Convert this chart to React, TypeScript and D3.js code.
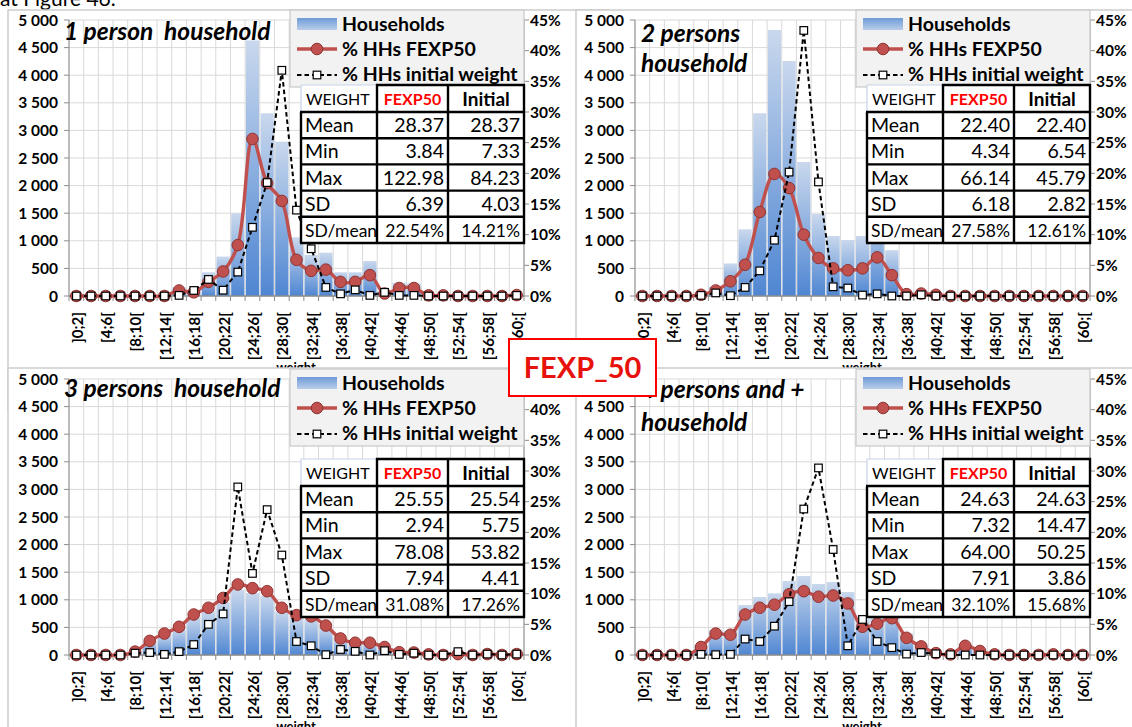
import React from "react";
import * as d3 from "d3";

// ---------- DATA ----------
const categories = [
  "]0;2]", "[2;4[", "[4;6[", "[6;8[", "[8;10[", "[10;12[", "[12;14[", "[14;16[",
  "[16;18[", "[18;20[", "[20;22[", "[22;24[", "[24;26[", "[26;28[", "[28;30[",
  "[30;32[", "[32;34[", "[34;36[", "[36;38[", "[38;40[", "[40;42[", "[42;44[",
  "[44;46[", "[46;48[", "[48;50[", "[50;52[", "[52;54[", "[54;56[", "[56;58[",
  "[58;60[", "[60;[",
];
const leftTicks = [0, 500, 1000, 1500, 2000, 2500, 3000, 3500, 4000, 4500, 5000];
const leftTickLabels = ["0", "500", "1 000", "1 500", "2 000", "2 500", "3 000", "3 500", "4 000", "4 500", "5 000"];
const rightTicks = [0, 5, 10, 15, 20, 25, 30, 35, 40, 45];
const rightTickLabels = ["0%", "5%", "10%", "15%", "20%", "25%", "30%", "35%", "40%", "45%"];

const legendLabels = ["Households", "% HHs FEXP50", "% HHs initial weight"];
const tableRowLabels = ["Mean", "Min", "Max", "SD", "SD/mean"];
const tableHeader = ["WEIGHT", "FEXP50", "Initial"];

// 1 person household
const households1 = [0, 0, 0, 0, 0, 0, 0, 160, 110, 430, 714, 1500, 4630, 3310, 2796, 1063, 743, 785, 430, 430, 634, 70, 240, 230, 20, 20, 0, 0, 0, 0, 25];
const fexp1 = [0, 0, 0, 0, 0, 0, 0, 0.9, 0.6, 2.3, 4.0, 8.3, 25.6, 18.4, 15.5, 5.9, 4.1, 4.3, 2.3, 2.3, 3.4, 0.4, 1.3, 1.3, 0.1, 0.1, 0, 0, 0, 0, 0.15];
const init1 = [0, 0, 0, 0, 0, 0, 0, 0.1, 0.9, 2.7, 0.95, 3.9, 11.2, 18.5, 36.8, 14.0, 7.7, 1.4, 0.35, 1.0, 0.1, 0.6, 0.1, 0.1, 0, 0, 0, 0, 0, 0, 0.1];
const statsFexp1 = ["28.37", "3.84", "122.98", "6.39", "22.54%"];
const statsInit1 = ["28.37", "7.33", "84.23", "4.03", "14.21%"];

// 2 persons household
const households2 = [0, 0, 0, 0, 30, 170, 590, 1208, 3310, 4820, 4257, 2428, 1486, 1087, 1014, 1087, 1530, 830, 70, 95, 50, 0, 0, 0, 0, 0, 0, 0, 0, 0, 0];
const fexp2 = [0, 0, 0, 0, 0.2, 0.9, 2.4, 5.1, 13.7, 19.9, 17.6, 10.0, 6.2, 4.5, 4.2, 4.5, 6.3, 3.4, 0.3, 0.4, 0.2, 0, 0, 0, 0, 0, 0, 0, 0, 0, 0];
const init2 = [0, 0, 0, 0, 0.1, 0.5, 0.05, 1.4, 4.1, 9.1, 20.2, 43.3, 18.6, 1.5, 1.3, 0.15, 0.35, 0, 0, 0.2, 0, 0, 0, 0, 0, 0, 0, 0, 0, 0, 0];
const statsFexp2 = ["22.40", "4.34", "66.14", "6.18", "27.58%"];
const statsInit2 = ["22.40", "6.54", "45.79", "2.82", "12.61%"];

// 3 persons household
const households3 = [0, 0, 0, 0, 57, 237, 360, 474, 680, 793, 958, 1185, 1123, 1071, 793, 670, 650, 494, 278, 206, 206, 134, 46, 41, 10, 0, 15, 0, 15, 0, 15];
const fexp3 = [0, 0, 0, 0, 0.55, 2.3, 3.5, 4.6, 6.6, 7.7, 9.3, 11.5, 10.9, 10.4, 7.7, 6.5, 6.3, 4.8, 2.7, 2.0, 2.0, 1.3, 0.45, 0.4, 0.1, 0, 0.15, 0, 0.15, 0, 0.15];
const init3 = [0, 0, 0, 0, 0.3, 0.4, 0.1, 0.55, 1.7, 5.0, 6.7, 27.4, 13.3, 23.7, 16.3, 2.2, 1.5, 0.05, 0.9, 0.6, 0, 0.7, 0.1, 0.3, 0, 0, 0.55, 0, 0.15, 0, 0.15];
const statsFexp3 = ["25.55", "2.94", "78.08", "7.94", "31.08%"];
const statsInit3 = ["25.54", "5.75", "53.82", "4.41", "17.26%"];

// 4 persons and + household
const households4 = [0, 0, 0, 0, 177, 453, 440, 906, 1050, 1117, 1340, 1431, 1286, 1322, 1141, 650, 700, 815, 392, 190, 40, 14, 200, 90, 14, 0, 0, 0, 14, 0, 0];
const fexp4 = [0, 0, 0, 0, 1.3, 3.5, 3.3, 6.6, 7.7, 8.2, 9.9, 10.4, 9.5, 9.7, 8.4, 4.6, 5.1, 6.0, 2.8, 1.4, 0.3, 0.1, 1.5, 0.65, 0.1, 0, 0, 0, 0.1, 0, 0];
const init4 = [0, 0, 0, 0, 0.1, 0.05, 0.1, 2.6, 2.2, 4.7, 8.7, 23.8, 30.5, 17.2, 1.5, 5.8, 2.2, 1.2, 0.15, 0.4, 0.2, 0.05, 0, 0, 0, 0, 0, 0, 0, 0, 0];
const statsFexp4 = ["24.63", "7.32", "64.00", "7.91", "32.10%"];
const statsInit4 = ["24.63", "14.47", "50.25", "3.86", "15.68%"];

// ---------- STYLE ----------
const FONT = "Lato, 'Open Sans', 'DejaVu Sans', sans-serif";
const RED = "#c0504d";
const GRID = "#d9d9d9";
const AXIS = "#8c8c8c";

type PanelProps = {
  ox: number; oy: number;
  box: { x: number; y: number; w: number; h: number };
  titles: { t: string; y: number }[];
  titleX: number;
  tableY: number;
  bars: number[]; fexp: number[]; init: number[];
  sF: string[]; sI: string[];
};

function Panel(p: PanelProps) {
  const { ox, oy } = p;
  const x = d3.scaleBand<string>().domain(categories).range([ox + 69, ox + 524]).padding(0);
  const step = x.step();
  const cx = (i: number) => (x(categories[i]) as number) + step / 2;
  const yL = d3.scaleLinear().domain([0, 5000]).range([oy + 296, oy + 20]);
  const yR = d3.scaleLinear().domain([0, 45]).range([oy + 296, oy + 20]);
  const redPath = d3.line<number>().x((_, i) => cx(i)).y((d) => yR(d)).curve(d3.curveCatmullRom.alpha(0.5))(p.fexp) || "";
  const blackPath = d3.line<number>().x((_, i) => cx(i)).y((d) => yR(d))(p.init) || "";
  const barW = step * 0.9;
  const x0 = ox + 69, x1 = ox + 524, yb = oy + 296, yt = oy + 20;

  // table geometry
  const tx = ox + 301, ty = oy + p.tableY;
  const colX = [tx, tx + 76, tx + 147, tx + 223];
  const headH = 27, rowH = 26.2;
  const rowY = [ty, ty + headH, ...tableRowLabels.map((_, k) => ty + headH + rowH * (k + 1))];
  const tBottom = rowY[rowY.length - 1];

  // legend geometry
  const lx = ox + 290, ly = oy + 10;

  return (
    <g>
      <rect x={p.box.x} y={p.box.y} width={p.box.w} height={p.box.h} fill="#fff" stroke="#cdcdcd" strokeWidth={1.5} />
      {/* grid */}
      {leftTicks.map((v) => (
        <line key={"h" + v} x1={x0} x2={x1} y1={yL(v)} y2={yL(v)} stroke={GRID} strokeWidth={1} />
      ))}
      {d3.range(categories.length + 1).map((k) => (
        <line key={"v" + k} x1={x0 + k * step} x2={x0 + k * step} y1={yt} y2={yb} stroke={GRID} strokeWidth={1} />
      ))}
      {/* bars */}
      {p.bars.map((v, i) => (
        v > 0 ? <rect key={"b" + i} x={cx(i) - barW / 2} y={yL(v)} width={barW} height={yb - yL(v)} fill="url(#barGrad)" /> : null
      ))}
      {/* axes */}
      <line x1={x0} x2={x0} y1={yt} y2={yb} stroke={AXIS} />
      <line x1={x1} x2={x1} y1={yt} y2={yb} stroke={AXIS} />
      <line x1={x0} x2={x1} y1={yb} y2={yb} stroke={AXIS} strokeWidth={1.5} />
      {leftTicks.map((v) => (
        <line key={"lt" + v} x1={x0 - 5} x2={x0} y1={yL(v)} y2={yL(v)} stroke={AXIS} />
      ))}
      {rightTicks.map((v) => (
        <line key={"rt" + v} x1={x1} x2={x1 + 5} y1={yR(v)} y2={yR(v)} stroke={AXIS} />
      ))}
      {d3.range(categories.length + 1).map((k) => (
        <line key={"bt" + k} x1={x0 + k * step} x2={x0 + k * step} y1={yb} y2={yb + 5} stroke={AXIS} />
      ))}
      {/* lines */}
      <path d={redPath} fill="none" stroke={RED} strokeWidth={3.4} />
      {p.fexp.map((v, i) => (
        <circle key={"rc" + i} cx={cx(i)} cy={yR(v)} r={5.8} fill={RED} stroke="#8e3432" strokeWidth={1} />
      ))}
      <path d={blackPath} fill="none" stroke="#000" strokeWidth={2} strokeDasharray="4.5,3" />
      {p.init.map((v, i) => (
        <rect key={"sq" + i} x={cx(i) - 3.8} y={yR(v) - 3.8} width={7.6} height={7.6} fill="#fff" stroke="#000" strokeWidth={1.2} />
      ))}
      {/* tick labels */}
      {leftTicks.map((v, k) => (
        <text key={"ll" + v} x={ox + 58} y={yL(v)} dy="0.36em" textAnchor="end" fontSize={15.5} fontWeight="bold">{leftTickLabels[k]}</text>
      ))}
      {rightTicks.map((v, k) => (
        <text key={"rl" + v} x={ox + 530} y={yR(v)} dy="0.36em" textAnchor="start" fontSize={15.5} fontWeight="bold">{rightTickLabels[k]}</text>
      ))}
      {categories.map((c, i) => (
        i % 2 === 0 ? (
          <text key={"cl" + i} transform={`translate(${cx(i) + 1},${yb + 16}) rotate(-90)`} textAnchor="end" dy="0.36em" fontSize={15} fontWeight="bold">{c}</text>
        ) : null
      ))}
      <text x={ox + 296} y={oy + 372} textAnchor="middle" fontSize={13} fontWeight="bold">weight</text>
      {/* title */}
      {p.titles.map((t, k) => (
        <text key={"t" + k} x={ox + p.titleX} y={oy + t.y} fontSize={24.5} fontWeight="bold" fontStyle="italic" style={{ whiteSpace: "pre" }}>{t.t}</text>
      ))}
      {/* legend */}
      <rect x={lx} y={ly} width={234} height={77} fill="#f2f2f2" stroke="#c8c8c8" strokeWidth={1.2} />
      <rect x={lx + 7} y={ly + 8} width={40} height={12} fill="url(#legGrad)" />
      <line x1={lx + 7} x2={lx + 47} y1={ly + 39} y2={ly + 39} stroke={RED} strokeWidth={3.4} />
      <circle cx={lx + 27} cy={ly + 39} r={5.8} fill={RED} stroke="#8e3432" strokeWidth={1} />
      <line x1={lx + 7} x2={lx + 47} y1={ly + 65} y2={ly + 65} stroke="#000" strokeWidth={2} strokeDasharray="4.5,3" />
      <rect x={lx + 23.2} y={ly + 61.2} width={7.6} height={7.6} fill="#fff" stroke="#000" strokeWidth={1.2} />
      {legendLabels.map((l, k) => (
        <text key={"lg" + k} x={lx + 52} y={ly + 21 + k * 25} fontSize={19.5} fontWeight="bold">{l}</text>
      ))}
      {/* table */}
      <rect x={colX[0]} y={ty} width={colX[3] - colX[0]} height={tBottom - ty} fill="#fff" />
      <line x1={colX[0]} x2={colX[1]} y1={ty} y2={ty} stroke="#c5d3e8" strokeWidth={1.2} />
      <line x1={colX[0]} x2={colX[0]} y1={ty} y2={ty + headH} stroke="#c5d3e8" strokeWidth={1.2} />
      <line x1={colX[1] - 1} x2={colX[3] + 1} y1={ty} y2={ty} stroke="#000" strokeWidth={2.4} />
      {rowY.slice(1).map((yy, k) => (
        <line key={"th" + k} x1={colX[0] - 1} x2={colX[3] + 1} y1={yy} y2={yy} stroke="#000" strokeWidth={2.4} />
      ))}
      <line x1={colX[0]} x2={colX[0]} y1={ty + headH} y2={tBottom} stroke="#000" strokeWidth={2.4} />
      {colX.slice(1).map((xx, k) => (
        <line key={"tv" + k} x1={xx} x2={xx} y1={ty - 1} y2={tBottom + 1} stroke="#000" strokeWidth={2.4} />
      ))}
      <text x={colX[0] + 5} y={ty + 20} fontSize={16}>{tableHeader[0]}</text>
      <text x={(colX[1] + colX[2]) / 2} y={ty + 20} fontSize={16} fontWeight="bold" fill="#ff0000" textAnchor="middle">{tableHeader[1]}</text>
      <text x={(colX[2] + colX[3]) / 2} y={ty + 20.5} fontSize={19} fontWeight="bold" textAnchor="middle">{tableHeader[2]}</text>
      {tableRowLabels.map((l, k) => {
        const yy = rowY[k + 1] + rowH / 2 + 7;
        const fs = k === 4 ? 17.5 : 19.5;
        return (
          <g key={"tr" + k}>
            <text x={colX[0] + 4} y={yy} fontSize={fs}>{l}</text>
            <text x={colX[2] - 4} y={yy} fontSize={fs} textAnchor="end">{p.sF[k]}</text>
            <text x={colX[3] - 4} y={yy} fontSize={fs} textAnchor="end">{p.sI[k]}</text>
          </g>
        );
      })}
    </g>
  );
}

const panels: PanelProps[] = [
  { ox: 0, oy: 0, box: { x: 8, y: 10, w: 600, h: 400 }, titles: [{ t: "1 person  household", y: 40 }], titleX: 64, tableY: 85, bars: households1, fexp: fexp1, init: init1, sF: statsFexp1, sI: statsInit1 },
  { ox: 566, oy: 0, box: { x: 576, y: 10, w: 600, h: 400 }, titles: [{ t: "2 persons", y: 42 }, { t: "household", y: 72 }], titleX: 75, tableY: 85, bars: households2, fexp: fexp2, init: init2, sF: statsFexp2, sI: statsInit2 },
  { ox: 0, oy: 359, box: { x: 8, y: 368, w: 600, h: 400 }, titles: [{ t: "3 persons  household", y: 38 }], titleX: 64, tableY: 100, bars: households3, fexp: fexp3, init: init3, sF: statsFexp3, sI: statsInit3 },
  { ox: 566, oy: 359, box: { x: 576, y: 368, w: 600, h: 400 }, titles: [{ t: "4 persons and +", y: 39 }, { t: "household", y: 72 }], titleX: 75, tableY: 100, bars: households4, fexp: fexp4, init: init4, sF: statsFexp4, sI: statsInit4 },
];

export default function App() {
  return (
    <svg width={1132} height={727} style={{ position: "absolute", left: 0, top: 0, background: "#fff" }} fontFamily={FONT}>
      <defs>
        <linearGradient id="barGrad" x1="0" y1="0" x2="0" y2="1">
          <stop offset="0" stopColor="#c9d8ed" />
          <stop offset="1" stopColor="#4f86d2" />
        </linearGradient>
        <linearGradient id="legGrad" x1="0" y1="0" x2="0" y2="1">
          <stop offset="0" stopColor="#6f9bd9" />
          <stop offset="1" stopColor="#b9cdea" />
        </linearGradient>
      </defs>
      <rect x={0} y={0} width={1132} height={727} fill="#fff" />
      <text x={0} y={6} fontSize={21}>at Figure 46.</text>
      {panels.map((p, k) => (
        <Panel key={k} {...p} />
      ))}
      <rect x={509} y={339} width={147} height={57} fill="#fff" stroke="#ff0000" strokeWidth={2} />
      <text x={582.5} y={378} textAnchor="middle" fontSize={29} fontWeight="bold" fill="#e8120c">FEXP_50</text>
    </svg>
  );
}
